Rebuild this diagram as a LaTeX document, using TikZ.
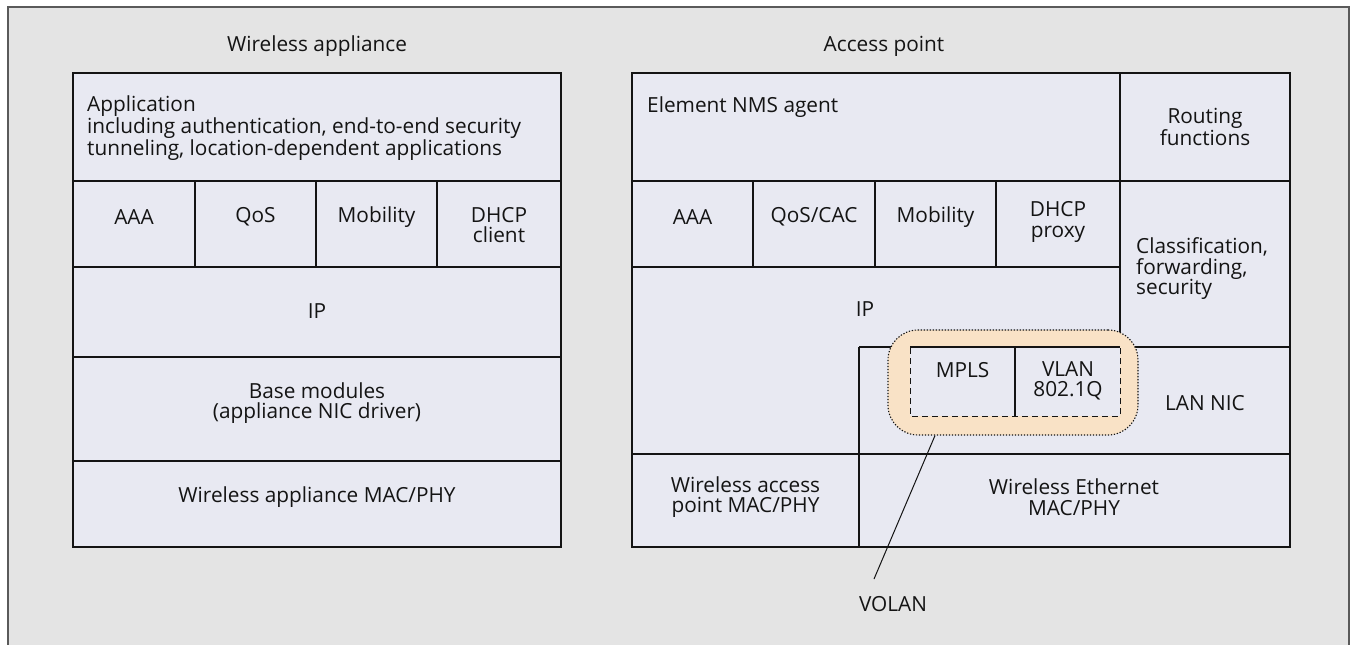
\documentclass[tikz,border=0pt]{standalone}
\usepackage{fontspec}
\setmainfont{Open Sans}
\usetikzlibrary{calc}
\definecolor{framebg}{HTML}{E4E4E4}
\definecolor{framerule}{HTML}{5A5A5A}
\definecolor{cellbg}{HTML}{E8E9F2}
\definecolor{volanbg}{HTML}{F9E2C6}
\definecolor{ink}{HTML}{141414}

\begin{document}
\begin{tikzpicture}[x=1pt,y=-1pt,
  grid/.style={draw=ink, line width=1.1pt},
  outline/.style={draw=ink, line width=1.4pt, fill=cellbg},
  lbl/.style={font=\fontsize{20.8}{20.5}\selectfont, text=ink, inner sep=0pt, align=center},
  lbll/.style={lbl, align=left, anchor=west},
  dotborder/.style={draw=ink, line width=1.1pt, dash pattern=on 1.3pt off 1.7pt},
  dashborder/.style={draw=ink, line width=1pt, dash pattern=on 6pt off 4pt},
  pointer/.style={draw=ink, line width=1pt}
]
\useasboundingbox (0,0) rectangle (1353,645);
\clip (0,0) rectangle (1353,645);

% grey panel
\filldraw[fill=framebg, draw=framerule, line width=1.5pt] (8,7) rectangle (1349,700);

% ---------------- wireless appliance stack ----------------
\path[outline] (73,73) rectangle (561,547);
\draw[grid] (73,181) -- (561,181) (73,267) -- (561,267)
            (73,357) -- (561,357) (73,461) -- (561,461);
\draw[grid] (195,181) -- (195,267) (316,181) -- (316,267) (437,181) -- (437,267);

% ---------------- access point stack ----------------
\path[outline] (632,73) rectangle (1290,547);
\draw[grid] (1120,73) -- (1120,347);
\draw[grid] (632,181) -- (1290,181) (632,267) -- (1120,267);
\draw[grid] (753,181) -- (753,267) (875,181) -- (875,267) (996,181) -- (996,267);
\draw[grid] (859,347) -- (1290,347) (859,347) -- (859,547);
\draw[grid] (632,454) -- (1290,454);

% VOLAN region
\node[dotborder, fill=volanbg, rounded corners=30pt, minimum width=250pt,
      minimum height=105pt, inner sep=0pt] (volan) at (1013,382.5) {};
\path[fill=cellbg] (910,348) rectangle (1120,416);
\draw[dashborder] (910,348) -- (910,416) -- (1120,416) -- (1120,348);
\draw[grid] (910,347) -- (1120,347) (1015,347) -- (1015,416);

% ---------------- labels ----------------
\node[lbl] (tapp) at (317,46) {Wireless appliance};
\node[lbl] (tap) at (884,46) {Access point};

\node[lbll] (app) at (87,128) {Application\\including authentication, end-to-end security\\tunneling, location-dependent applications};
\node[lbl] (aaa1) at (134,217) {AAA};
\node[lbl] (qos1) at (255.5,217) {QoS};
\node[lbl] (mob1) at (376.5,217) {Mobility};
\node[lbl] (dhcp1) at (499,225) {DHCP\\client};
\node[lbl] (ip1) at (317,311) {IP};
\node[lbl] (base1) at (317,403) {Base modules\\(appliance NIC driver)};
\node[lbl] (mac1) at (317,497) {Wireless appliance MAC/PHY};

\node[lbll] (nms) at (647,107) {Element NMS agent};
\node[lbl] (route) at (1205,127) {Routing\\functions};
\node[lbl] (aaa2) at (692.5,217) {AAA};
\node[lbl] (qos2) at (814,217) {QoS/CAC};
\node[lbl] (mob2) at (935.5,217) {Mobility};
\node[lbl] (dhcp2) at (1058,222) {DHCP\\proxy};
\node[lbll] (class) at (1136,269) {Classification,\\forwarding,\\security};
\node[lbl] (ip2) at (865,309) {IP};
\node[lbl] (mpls) at (962.5,370) {MPLS};
\node[lbl] (vlan) at (1068,381) {VLAN\\802.1Q};
\node[lbl] (lannic) at (1205,403) {LAN NIC};
\node[lbl] (mac2) at (745.5,497) {Wireless access\\point MAC/PHY};
\node[lbl] (mac3) at (1074,497) {Wireless Ethernet\\MAC/PHY};

% VOLAN callout
\node[lbl] (volanlbl) at (893,604) {VOLAN};
\coordinate (volantail) at (874,579);
\draw[pointer] ([xshift=-78pt]volan.south) -- (volantail);
\end{tikzpicture}
\end{document}
